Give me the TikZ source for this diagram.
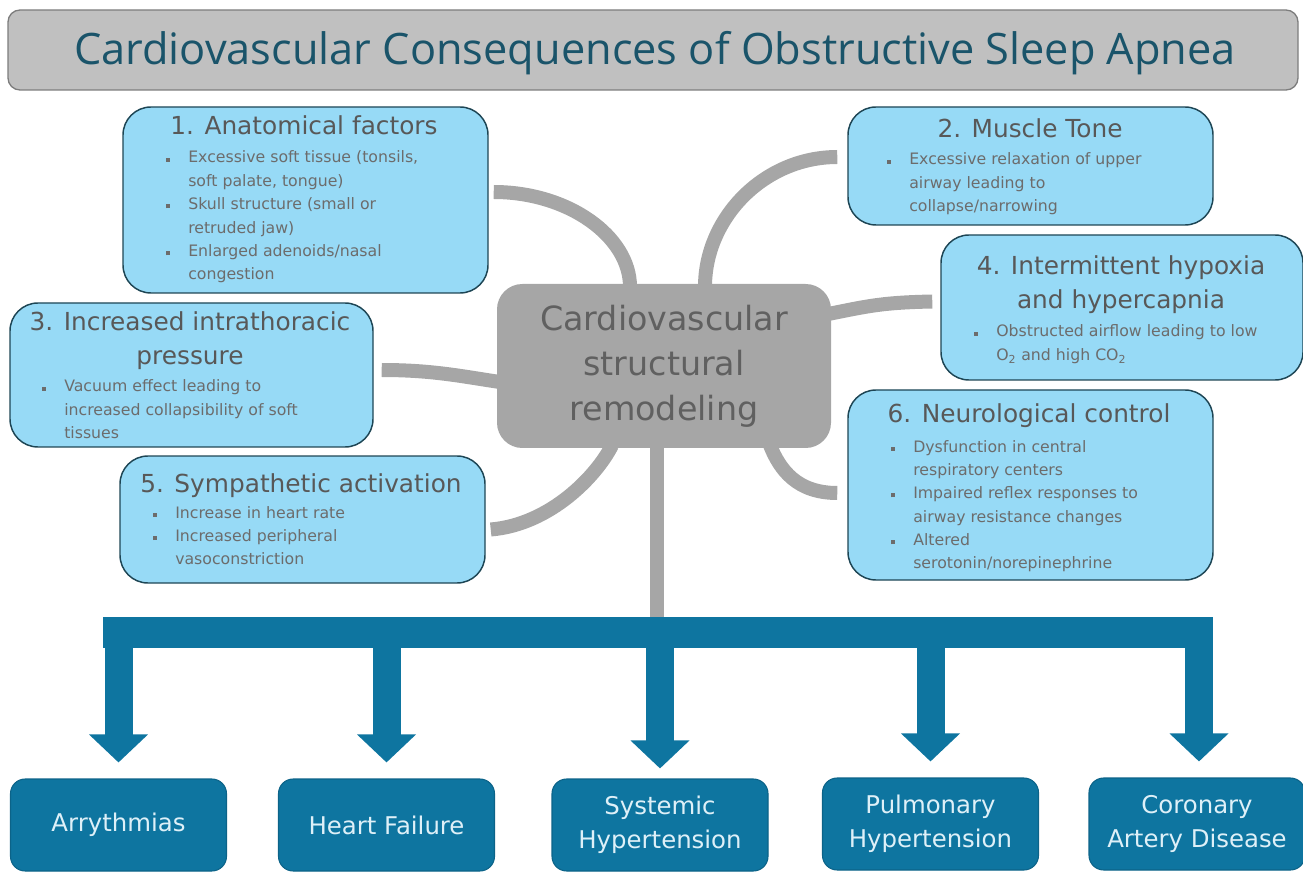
\documentclass[tikz,border=0pt]{standalone}
\usepackage{fontspec}
\setmainfont{Open Sans}
\newfontfamily\dvs{DejaVu Sans}
\usetikzlibrary{arrows.meta,calc}
\pgfdeclarelayer{background}
\pgfsetlayers{background,main}
\definecolor{lblue}{RGB}{151,218,246}
\definecolor{bborder}{RGB}{30,70,85}
\definecolor{ttext}{RGB}{88,88,88}
\definecolor{btext}{RGB}{108,108,108}
\definecolor{cgray}{RGB}{166,166,166}
\definecolor{ctext}{RGB}{96,96,96}
\definecolor{dblue}{RGB}{14,117,160}
\definecolor{wtext}{RGB}{222,240,248}
\definecolor{tfill}{RGB}{192,192,192}
\definecolor{tborder}{RGB}{125,125,125}
\definecolor{titletext}{RGB}{26,84,106}
\newcommand\bul{\llap{\textcolor{btext}{\rule[1pt]{3pt}{3pt}}\hspace{13.5pt}}}
\newcommand\lines[1]{\begin{tabular}[t]{@{}l@{}}#1\end{tabular}}
\newcommand\clines[1]{\begin{tabular}[t]{@{}c@{}}#1\end{tabular}}
\tikzset{
  infobox/.style={draw=bborder, line width=1.1pt, fill=lblue, rounded corners=21pt, inner sep=0},
  boxtitle/.style={anchor=base, text=ttext, inner sep=0, font=\dvs\fontsize{18.6}{25.5}\selectfont},
  blist/.style={anchor=base west, text=btext, inner sep=0, font=\dvs\fontsize{11.8}{17.55}\selectfont},
  link/.style={draw=cgray, line width=10.5pt},
  centerbox/.style={fill=cgray, rounded corners=19pt, inner sep=0, text=ctext, align=center,
    font=\dvs\fontsize{25}{33.75}\selectfont},
  outbox/.style={draw=dblue!85!black, line width=0.8pt, fill=dblue, rounded corners=11pt,
    minimum width=162pt, minimum height=69pt, text=wtext, align=center,
    font=\dvs\fontsize{18.3}{25.5}\selectfont, inner sep=0},
  bluearrow/.style={draw=dblue, line width=21pt, -{Triangle[width=43pt,length=21pt]}, shorten >=12pt},
  titlebox/.style={draw=tborder, line width=1pt, fill=tfill, rounded corners=9pt, inner sep=0}
}
\begin{document}
\begin{tikzpicture}[x=0.75pt,y=-0.75pt]
\useasboundingbox (0,0) rectangle (1303,873);
% title
\node[titlebox, minimum width=967.5pt, minimum height=60pt] (titlebox) at (653,50) {};
\node[anchor=base, inner sep=0, text=titletext, font=\fontsize{32.5}{36}\selectfont] (title) at (655,65)
  {Cardiovascular Consequences of Obstructive Sleep Apnea};
% info boxes
\node[infobox, minimum width=273.75pt, minimum height=139.5pt] (b1) at (305.5,200) {};
\node[infobox, minimum width=273.75pt, minimum height=88.5pt] (b2) at (1030.5,166) {};
\node[infobox, minimum width=271.5pt, minimum height=108.75pt] (b4) at (1122,307.5) {};
\node[infobox, minimum width=272.25pt, minimum height=108pt] (b3) at (191.5,375) {};
\node[infobox, minimum width=273.75pt, minimum height=95.25pt] (b5) at (302.5,519.5) {};
\node[infobox, minimum width=273.75pt, minimum height=142.5pt] (b6) at (1030.5,485) {};
% center
\node[centerbox, minimum width=250.5pt, minimum height=123pt] (cb) at (664,366)
  {Cardiovascular\\structural\\remodeling};
% titles
\node[boxtitle] (t1) at (304,135) {1. Anatomical factors};
\node[boxtitle] (t2) at (1030,138) {2. Muscle Tone};
\node[boxtitle] (t4) at (1121,275) {\clines{4. Intermittent hypoxia\\and hypercapnia}};
\node[boxtitle] (t3) at (190,331) {\clines{3. Increased intrathoracic\\pressure}};
\node[boxtitle] (t5) at (301,492) {5. Sympathetic activation};
\node[boxtitle] (t6) at (1029,423) {6. Neurological control};
% lists
\node[blist] (l1) at (188,163) {\lines{\bul Excessive soft tissue (tonsils,\\soft palate, tongue)\\\bul Skull structure (small or\\retruded jaw)\\\bul Enlarged adenoids/nasal\\congestion}};
\node[blist] (l2) at (909,165) {\lines{\bul Excessive relaxation of upper\\airway leading to\\collapse/narrowing}};
\node[blist] (l4) at (996,337) {\lines{\bul Obstructed airflow leading to low\\O\textsubscript{2} and high CO\textsubscript{2}}};
\node[blist] (l3) at (64,392) {\lines{\bul Vacuum effect leading to\\increased collapsibility of soft\\tissues}};
\node[blist] (l5) at (175,518) {\lines{\bul Increase in heart rate\\\bul Increased peripheral\\vasoconstriction}};
\node[blist] (l6) at (913,452) {\lines{\bul Dysfunction in central\\respiratory centers\\\bul Impaired reflex responses to\\airway resistance changes\\\bul Altered\\serotonin/norepinephrine}};
% outcome boxes
\node[outbox] (o1) at (118.5,825) {Arrythmias};
\node[outbox] (o2) at (386.5,825) {Heart Failure};
\node[outbox] (o3) at (660,825) {Systemic\\Hypertension};
\node[outbox] (o4) at (930.5,824) {Pulmonary\\Hypertension};
\node[outbox] (o5) at (1197,824) {Coronary\\Artery Disease};
% bar
\node[fill=dblue, inner sep=0, minimum width=832.5pt, minimum height=23.25pt] (bar) at (658,632.5) {};
% connectors
\begin{pgfonlayer}{background}
\draw[link] ($(b1.east)+(5,-8)$) .. controls +(75,0) and +(0,-50) .. ($(cb.north)+(-34,3)$);
\draw[link] ($(b2.west)+(-10,-9)$) .. controls +(-73,0) and +(0,-69) .. ($(cb.north)+(41,3)$);
\draw[link] ($(b4.west)+(-8,-6)$) .. controls +(-50,1) and +(40,-8) .. ($(cb.east)+(-3,-52)$);
\draw[link] ($(b3.east)+(8,-5)$) .. controls +(50,0) and +(-40,-6) .. ($(cb.west)+(3,16)$);
\draw[link] ($(b5.east)+(5,10)$) .. controls +(60,-5) and +(-15,30) .. ($(cb.south)+(-52,-3)$);
\draw[link] ($(b6.west)+(-10,8)$) .. controls +(-40,0) and +(10,25) .. ($(cb.south)+(106,-3)$);
\draw[link] ($(cb.south)+(-7,-3)$) -- ($(cb.south |- bar.north)+(-7,2)$);
\end{pgfonlayer}
% arrows
\draw[bluearrow] (o1.north |- bar.center) -- (o1.north);
\draw[bluearrow] (o2.north |- bar.center) -- (o2.north);
\draw[bluearrow, shorten >=7.5pt] (o3.north |- bar.center) -- (o3.north);
\draw[bluearrow] (o4.north |- bar.center) -- (o4.north);
\draw[bluearrow] ([xshift=1.5pt]o5.north |- bar.center) -- ([xshift=1.5pt]o5.north);
\end{tikzpicture}
\end{document}
